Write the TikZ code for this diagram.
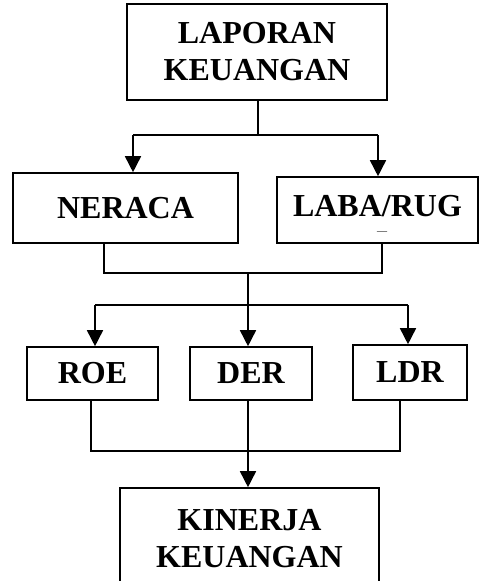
\documentclass[tikz,border=0pt]{standalone}
\usepackage{fontspec}
\usepackage{graphicx}
\setmainfont{Liberation Serif}
\usetikzlibrary{arrows.meta}
\begin{document}
\begin{tikzpicture}[x=1pt,y=-1pt,
  box/.style={draw,line width=1.6pt,inner sep=0pt,align=center,
    font=\fontsize{32}{37}\selectfont\bfseries},
  link/.style={line width=1.6pt},
  arr/.style={line width=1.6pt,-{Triangle[width=16pt,length=16pt]}}]
\useasboundingbox (0,0) rectangle (479,581);
\node[box,minimum width=260pt,minimum height=96pt] (lap) at (257,52) {LAPORAN\\KEUANGAN};
\node[box,minimum width=225pt,minimum height=70pt] (ner) at (125.5,208) {NERACA};
\node[box,minimum width=201pt,minimum height=66pt] (lab) at (377.5,210) {};
\node[font=\fontsize{32}{37}\selectfont\bfseries,inner sep=0pt] (labt) at (377.5,206) {LABA/RUG};
\node[font=\fontsize{10}{10}\selectfont,inner sep=0pt] (labd) at (382,233) {\scalebox{2}[1]{–}};
\node[box,minimum width=131pt,minimum height=53pt] (roe) at (92.5,373.5) {ROE};
\node[box,minimum width=122pt,minimum height=53pt] (der) at (251,373.5) {DER};
\node[box,minimum width=114pt,minimum height=55pt] (ldr) at (410,372.5) {LDR};
\node[box,minimum width=259pt,minimum height=102pt] (kin) at (249.5,539) {KINERJA\\KEUANGAN};
% junction coordinates
\coordinate (j1) at (258,135);
\coordinate (j1l) at (133,135);
\coordinate (j1r) at (378,135);
\coordinate (j2l) at (104,273);
\coordinate (j2r) at (382,273);
\coordinate (j2m) at (248,273);
\coordinate (j3l) at (95,305);
\coordinate (j3r) at (408,305);
\coordinate (j4l) at (91,451);
\coordinate (j4r) at (400,451);
% top split
\draw[link] (lap.south -| j1) -- (j1);
\draw[link] (j1l) -- (j1r);
\draw[arr] (j1l) -- (j1l |- ner.north);
\draw[arr] (j1r) -- (j1r |- lab.north);
% merge NERACA and LABA
\draw[link] (ner.south -| j2l) -- (j2l) -- (j2r) -- (lab.south -| j2r);
\draw[link] (j3l) -- (j3r);
\draw[arr] (j2m) -- (j2m |- der.north);
\draw[arr] (j3l) -- (j3l |- roe.north);
\draw[arr] (j3r) -- (j3r |- ldr.north);
% merge ratios
\draw[link] (roe.south -| j4l) -- (j4l) -- (j4r) -- (ldr.south -| j4r);
\draw[arr] (der.south -| j2m) -- (j2m |- kin.north);
\end{tikzpicture}
\end{document}
